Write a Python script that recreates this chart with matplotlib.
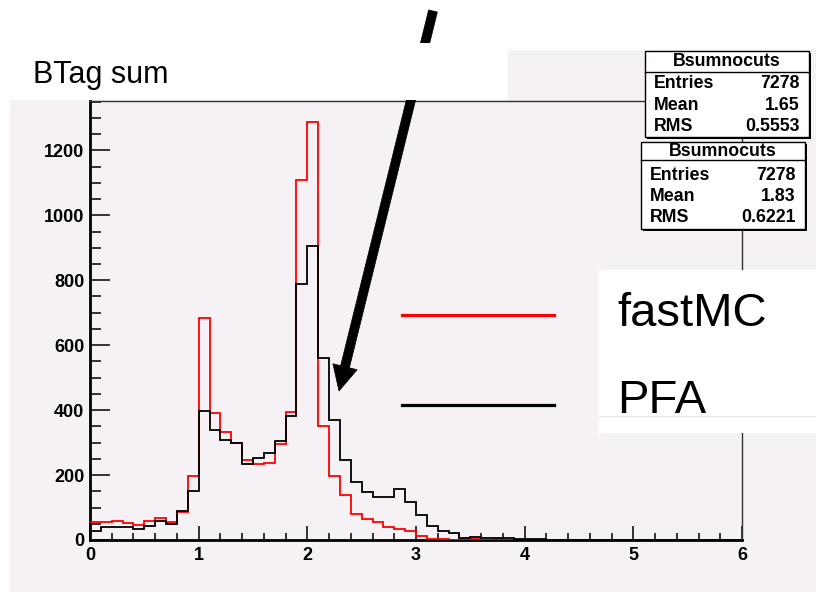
import numpy as np
import matplotlib
matplotlib.use("Agg")
import matplotlib.pyplot as plt
from matplotlib.patches import Rectangle, Polygon
from matplotlib.lines import Line2D

# ---------------- data ----------------
bin_edges = np.round(np.linspace(0.0, 6.0, 61), 2)

fastmc_counts = [55, 55, 60, 51, 47, 60, 69, 55, 87, 197,
                 684, 390, 332, 298, 245, 233, 236, 297, 394, 1110,
                 1286, 351, 197, 138, 81, 65, 55, 41, 33, 28,
                 12, 2, 2, 1, 4, 2, 1, 4, 1, 0,
                 0, 0, 0, 0, 0, 0, 0, 0, 0, 0,
                 0, 0, 0, 0, 0, 0, 0, 0, 0, 0]

pfa_counts = [28, 41, 41, 41, 35, 43, 60, 48, 89, 151,
              397, 340, 308, 300, 233, 253, 267, 305, 382, 787,
              905, 561, 369, 246, 178, 147, 131, 131, 156, 118,
              77, 43, 28, 23, 7, 10, 5, 5, 6, 3,
              2, 2, 1, 1, 0, 0, 0, 0, 0, 0,
              0, 0, 0, 0, 0, 0, 0, 0, 0, 0]

x_ticks = [0, 1, 2, 3, 4, 5, 6]
y_ticks = [0, 200, 400, 600, 800, 1000, 1200]

series_labels = ["fastMC", "PFA"]
series_colors = ["#ff0000", "#000000"]

hist_name = "Bsumnocuts"
stat_names = ["Entries", "Mean", "RMS"]
stats_box1 = ["7278", "1.65", "0.5553"]
stats_box2 = ["7278", "1.83", "0.6221"]
title_text = "BTag sum"

# ---------------- figure ----------------
W, H = 816, 592
fig = plt.figure(figsize=(W / 100, H / 100), dpi=100)
fig.patch.set_facecolor("white")
PAD = "#f5f1f5"


def fx(x):
    return x / W


def fy(y):
    return 1 - y / H


def rect_px(x0, y0, x1, y1, **kw):
    r = Rectangle((fx(x0), fy(y1)), (x1 - x0) / W, (y1 - y0) / H,
                  transform=fig.transFigure, **kw)
    fig.add_artist(r)
    return r


# pad background
rect_px(10, 100, 816, 592, facecolor=PAD, edgecolor="none", zorder=-5)
rect_px(508, 50, 816, 101, facecolor=PAD, edgecolor="none", zorder=-5)

# axes
ax = fig.add_axes([fx(90), fy(540), fx(742) - fx(90), fy(101) - fy(540)])
ax.set_facecolor(PAD)
ax.set_xlim(0, 6)
ax.set_ylim(0, 1352)

ax.stairs(fastmc_counts, bin_edges, color=series_colors[0], linewidth=1.3,
          baseline=None, zorder=3)
ax.stairs(pfa_counts, bin_edges, color=series_colors[1], linewidth=1.3,
          baseline=None, zorder=4)

ax.set_xticks(x_ticks)
ax.set_xticklabels([str(t) for t in x_ticks])
ax.set_yticks(y_ticks)
ax.set_yticklabels([str(t) for t in y_ticks])
ax.set_xticks(np.arange(0, 6.01, 0.2), minor=True)
ax.set_yticks(np.arange(0, 1351, 50), minor=True)

ax.tick_params(axis="x", which="major", direction="in", length=10, width=1.1,
               pad=5, labelsize=13)
ax.tick_params(axis="x", which="minor", direction="in", length=5, width=1.1)
ax.tick_params(axis="y", which="major", direction="in", length=14.5, width=1.1,
               pad=4, labelsize=13)
ax.tick_params(axis="y", which="minor", direction="in", length=8, width=1.1)
for lab in ax.get_xticklabels() + ax.get_yticklabels():
    lab.set_fontweight("bold")
    lab.set_fontfamily("Liberation Sans")

ax.spines["left"].set_linewidth(2.0)
ax.spines["bottom"].set_linewidth(2.0)
ax.spines["top"].set_linewidth(1.0)
ax.spines["right"].set_linewidth(1.0)
ax.spines["top"].set_color("#333333")
ax.spines["right"].set_color("#333333")

# ---------------- arrow ----------------
tail = np.array([433.0, 11.0])
tip = np.array([339.0, 391.0])
d = tip - tail
L = np.hypot(*d)
u = d / L
n = np.array([u[1], -u[0]])
shaft_w = 9.0
head_len = 25.0
head_hw = 12.5
base = tip - u * head_len
shaft = [tail + n * shaft_w / 2, base + n * shaft_w / 2,
         base - n * shaft_w / 2, tail - n * shaft_w / 2]
head = [base + n * head_hw, tip, base - n * head_hw]
for pts in (shaft, head):
    fig.add_artist(Polygon([(fx(p[0]), fy(p[1])) for p in pts], closed=True,
                           transform=fig.transFigure, facecolor="black",
                           edgecolor="black", linewidth=0.5, zorder=10))

# white title box hides part of the arrow
rect_px(0, 43, 508, 100, facecolor="white", edgecolor="none", zorder=11)
fig.text(fx(33), fy(83), title_text, fontsize=22, family="Liberation Sans",
         va="baseline", ha="left", zorder=12)

# ---------------- stats boxes ----------------
def stats_box(x0, y0, x1, y1, sep, rows_y, values):
    rect_px(x0 + 2, y0 + 2, x1 + 2, y1 + 2, facecolor="black",
            edgecolor="none", zorder=13)
    rect_px(x0, y0, x1, y1, facecolor="white", edgecolor="black",
            linewidth=1.0, zorder=14)
    fig.add_artist(Line2D([fx(x0), fx(x1)], [fy(sep), fy(sep)],
                          transform=fig.transFigure, color="black",
                          linewidth=1.0, zorder=15))
    fig.text(fx((x0 + x1) / 2), fy((y0 + sep) / 2), hist_name,
             ha="center", va="center", fontsize=12.8, fontweight="bold",
             family="Liberation Sans", zorder=16)
    for name, val, yy in zip(stat_names, values, rows_y):
        fig.text(fx(x0 + 9), fy(yy), name, ha="left", va="center",
                 fontsize=12.8, fontweight="bold", family="Liberation Sans",
                 zorder=16)
        fig.text(fx(x1 - 9), fy(yy), val, ha="right", va="center",
                 fontsize=12.8, fontweight="bold", family="Liberation Sans",
                 zorder=16)


stats_box(645, 51, 809, 137, 72, [84, 106, 127], stats_box1)
stats_box(641, 142, 805, 229, 160, [175, 196, 217], stats_box2)

# ---------------- legend ----------------
rect_px(598, 270, 816, 433, facecolor="white", edgecolor="none", zorder=13)
fig.add_artist(Line2D([fx(598), fx(816)], [fy(416), fy(416)],
                      transform=fig.transFigure, color="#e8e8e8",
                      linewidth=0.8, zorder=14))
for lab, col, ly, ty in zip(series_labels, series_colors, [315, 405], [326, 413]):
    fig.add_artist(Line2D([fx(402), fx(554)], [fy(ly), fy(ly)],
                          transform=fig.transFigure, color=col,
                          linewidth=2.3, zorder=9))
    fig.text(fx(617), fy(ty), lab, ha="left", va="baseline", fontsize=34,
             family="Liberation Sans", zorder=15)

fig.savefig("out.png", dpi=100)
